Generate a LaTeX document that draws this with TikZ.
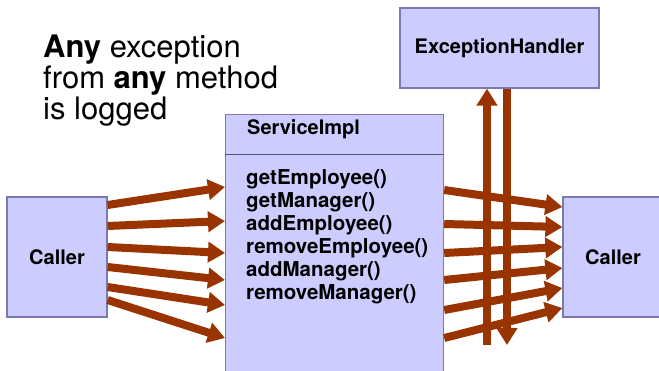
\documentclass[tikz,border=0pt]{standalone}
\usepackage{fontspec}
\setmainfont{TeX Gyre Heros}
\usepackage{xcolor}
\usepackage{tikz}
\usetikzlibrary{arrows.meta,calc}
\definecolor{boxfill}{HTML}{CCCCFF}
\definecolor{boxline}{HTML}{7A7AAE}
\definecolor{divline}{HTML}{555570}
\definecolor{flowred}{HTML}{993300}

\begin{document}
\begin{tikzpicture}[x=1pt,y=-1pt,
	umlbox/.style={draw=boxline,fill=boxfill,line width=1.2pt,inner sep=0pt,font=\fontsize{20}{22}\selectfont\bfseries},
	flow/.style={flowred,line width=8pt,-{Triangle[length=17pt,width=20pt]}}]
		\useasboundingbox (0,0) rectangle (659,370);
		\node[anchor=north west,align=left,inner sep=0pt,font=\fontsize{31}{31}\selectfont] (note) at (43,35) {\textbf{Any} exception\\from \textbf{any} method\\is logged};
		\node[umlbox,minimum width=100pt,minimum height=120pt] (callerL) at (57,257) {Caller};
		\node[umlbox,minimum width=100pt,minimum height=120pt] (callerR) at (613,257) {Caller};
		\node[umlbox,minimum width=199pt,minimum height=80pt] (handler) at (499.5,48) {ExceptionHandler};
		\node[umlbox,minimum width=218pt,minimum height=270pt,anchor=north west] (impl) at (225,114) {};
		\draw[divline,line width=1pt] (impl.west |- 0,154) -- (impl.east |- 0,154);
		\node[anchor=base west,inner sep=0pt,font=\fontsize{20}{22}\selectfont\bfseries] (implname) at (247,134) {ServiceImpl};
		\node[anchor=north west,align=left,inner sep=0pt,font=\fontsize{20.5}{23}\selectfont\bfseries] (methods) at (246,169) {getEmployee()\\getManager()\\addEmployee()\\removeEmployee()\\addManager()\\removeManager()};
		\foreach \s/\e in {205/187,226/221,247/253,267/280,287/305,300/338}
			\draw[flow] (callerL.east |- 0,\s) -- (impl.west |- 0,\e);
		\foreach \s/\e in {190/207,224/227,253/247,280/268,310/288,338/308}
			\draw[flow] (impl.east |- 0,\s) -- (callerR.west |- 0,\e);
		\coordinate (upfoot) at (487,345);
		\coordinate (downfoot) at (507,345);
		\draw[flow] (upfoot) -- (upfoot |- handler.south);
		\draw[flow] (downfoot |- handler.south) -- (downfoot);
	\end{tikzpicture}
\end{document}
